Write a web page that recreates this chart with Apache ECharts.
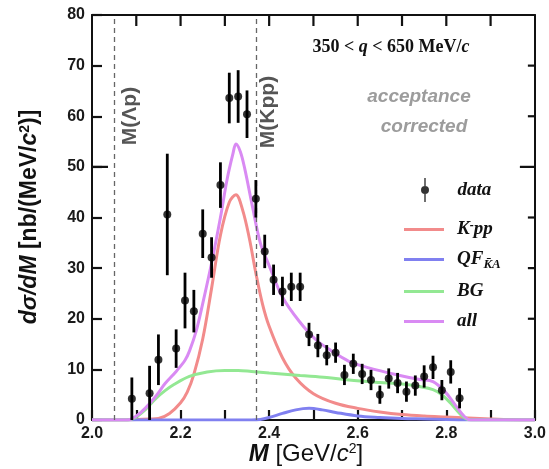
<!DOCTYPE html>
<html><head><meta charset="utf-8">
<script src="https://cdn.jsdelivr.net/npm/echarts@6/dist/echarts.min.js"></script>
<style>html,body{margin:0;padding:0;background:#fff}#c{width:549px;height:469px}</style>
</head><body><div id="c"></div>
<script>
// Invariant-mass spectrum, 350 < q < 650 MeV/c
const massBins = [2.09, 2.13, 2.15, 2.17, 2.19, 2.21, 2.23, 2.25, 2.27, 2.29,
  2.31, 2.33, 2.35, 2.37, 2.39, 2.41, 2.43, 2.45, 2.47, 2.49,
  2.51, 2.53, 2.55, 2.57, 2.59, 2.61, 2.63, 2.65, 2.67, 2.69,
  2.71, 2.73, 2.75, 2.77, 2.79, 2.81, 2.83];
const crossSection = [4.2, 5.3, 11.9, 40.6, 14.1, 23.6, 21.5, 36.8, 32.1, 46.4,
  63.6, 63.9, 60.4, 43.7, 33.3, 27.7, 25.4, 26.3, 26.3, 16.9,
  14.7, 12.8, 13.3, 8.9, 11.1, 9.1, 7.9, 5.0, 8.2, 7.3,
  5.6, 6.8, 8.6, 10.4, 5.9, 9.5, 4.3];
const crossSectionErr = [4.2, 5.4, 5.0, 12.0, 3.8, 5.5, 4.2, 4.8, 4.0, 4.5,
  5.0, 5.2, 4.7, 3.7, 3.3, 3.0, 2.9, 2.8, 2.8, 2.3,
  2.3, 2.0, 2.0, 2.0, 2.0, 2.0, 2.0, 1.8, 2.0, 2.0,
  2.0, 2.0, 2.2, 2.3, 2.0, 2.3, 2.0];

// fit components
const kppMass = [2.00, 2.05, 2.10, 2.13, 2.15, 2.175, 2.20, 2.215, 2.23, 2.25, 2.27, 2.29, 2.31, 2.325,
  2.34, 2.355, 2.37, 2.385, 2.40, 2.43, 2.46, 2.50, 2.55, 2.60, 2.65, 2.70, 2.75, 2.80, 2.85, 2.90, 2.95, 3.00];
const kppVal = [0, 0, 0.1, 0.2, 0.3, 1.3, 3.4, 5.5, 9.0, 16.0, 26.0, 36.5, 43.0, 44.5,
  41.5, 36.0, 29.0, 22.9, 18.5, 12.3, 8.3, 5.2, 3.3, 2.3, 1.6, 1.1, 0.8, 0.6, 0.4, 0.2, 0.05, 0];

const qfMass = [2.00, 2.36, 2.38, 2.40, 2.43, 2.46, 2.49, 2.52, 2.55, 2.60, 2.65, 2.70, 2.75, 2.80, 2.85, 3.00];
const qfVal = [0, 0, 0.1, 0.5, 1.3, 2.0, 2.3, 2.0, 1.5, 0.8, 0.5, 0.3, 0.2, 0.1, 0, 0];

const bgMass = [2.00, 2.08, 2.10, 2.12, 2.145, 2.165, 2.185, 2.22, 2.26, 2.30, 2.33, 2.36, 2.40, 2.47,
  2.53, 2.58, 2.65, 2.70, 2.74, 2.77, 2.79, 2.81, 2.83, 2.845, 2.86, 3.00];
const bgVal = [0, 0, 0.6, 2.0, 4.3, 5.8, 7.0, 8.6, 9.5, 9.8, 9.8, 9.6, 9.3, 8.8,
  8.4, 7.9, 7.4, 7.1, 6.6, 6.0, 5.0, 3.3, 1.3, 0.2, 0, 0];

const allMass = [2.00, 2.08, 2.10, 2.12, 2.145, 2.165, 2.19, 2.21, 2.22, 2.235, 2.25, 2.27, 2.29, 2.305,
  2.318, 2.325, 2.335, 2.345, 2.362, 2.38, 2.40, 2.43, 2.467, 2.505, 2.54, 2.58, 2.625, 2.69,
  2.74, 2.77, 2.797, 2.82, 2.842, 2.855, 3.00];
const allVal = [0, 0, 0.8, 2.3, 4.8, 7.2, 9.6, 11.8, 13.6, 17.5, 23.0, 31.0, 40.0, 47.5,
  52.5, 54.5, 53.0, 49.6, 42.3, 35.0, 30.5, 24.3, 19.6, 15.9, 13.7, 11.6, 10.3, 8.9,
  8.0, 7.6, 5.6, 3.0, 0.6, 0, 0];

// kinematic thresholds M(Λp), M(K⁻pp)
const thresholds = [2.054, 2.370];
const thresholdLabels = ['M(Λp)', 'M(Kpp)'];

const xTicks = [2.0, 2.2, 2.4, 2.6, 2.8, 3.0];
// tick marks repeated on the top and right edges of the frame
const topTickVals = [2.1, 2.2, 2.3, 2.4, 2.5, 2.6, 2.7, 2.8, 2.9];
const rightTickVals = [10, 20, 30, 40, 50, 60, 70];
const longTickVal = 50;

const zip = (a, b) => a.map((v, i) => [v, b[i]]);

const chart = echarts.init(document.getElementById('c'), null, {renderer: 'canvas'});

const tickFont = () => ({fontFamily: 'Liberation Sans', fontWeight: 'bold', fontSize: 16, color: '#1a1a1a'});
const frame = () => ({show: true, onZero: false, lineStyle: {color: '#111', width: 2}});
const ticksIn = () => ({show: true, inside: true, length: 10, lineStyle: {color: '#111', width: 2.2}});

const COL = {kpp: '#f28b8b', qf: '#8080f0', bg: '#93e893', all: '#d98af3'};

const curve = (name, xs, ys, color, z) => ({
  name, type: 'line', data: zip(xs, ys), smooth: 0.35, symbol: 'none', z,
  lineStyle: {color, width: 3}, itemStyle: {color}
});

// short inward tick drawn from an axis value; dx/dy give its direction and length
const tickSeries = (name, points, dirFn) => ({
  name, type: 'custom', z: 8, silent: true, clip: false,
  data: points, encode: {x: 0, y: 1},
  renderItem: (params, api) => {
    const p = api.coord([api.value(0), api.value(1)]);
    const d = dirFn(api.value(0), api.value(1));
    return {type: 'line', shape: {x1: p[0], y1: p[1], x2: p[0] + d[0], y2: p[1] + d[1]},
      style: {stroke: '#111', lineWidth: 2.2}};
  }
});

const legendRich = {
  i: {fontFamily: 'Liberation Serif', fontStyle: 'italic', fontWeight: 'bold', fontSize: 19, color: '#111'},
  sup: {fontFamily: 'Liberation Serif', fontStyle: 'italic', fontWeight: 'bold', fontSize: 12, color: '#111', verticalAlign: 'top', padding: [0, 0, 6, 0]},
  sub: {fontFamily: 'Liberation Serif', fontStyle: 'italic', fontWeight: 'bold', fontSize: 13, color: '#111', verticalAlign: 'bottom', padding: [10, 0, 0, 0]}
};
const legendText = {
  'data': '{i|data}',
  'K-pp': '{i|K}{sup|-}{i|pp}',
  'QF': '{i|QF}{sub|K\u0304A}',
  'BG': '{i|BG}',
  'all': '{i|all}'
};

chart.setOption({
  animation: false,
  backgroundColor: '#fff',
  grid: {left: 92, top: 15, right: 12, bottom: 49},
  xAxis: [{
    type: 'value', min: 2.0, max: 3.0, interval: 0.1,
    axisLine: frame(), axisTick: ticksIn(), splitLine: {show: false},
    axisLabel: Object.assign({margin: 6, formatter: v => {
      const t = xTicks.find(x => Math.abs(x - v) < 1e-6);
      return t === undefined ? '' : t.toFixed(1);
    }}, tickFont())
  }, {
    type: 'value', min: 2.0, max: 3.0, interval: 0.1, position: 'top',
    axisLine: frame(), axisTick: {show: false}, axisLabel: {show: false}, splitLine: {show: false}
  }],
  yAxis: [{
    type: 'value', min: 0, max: 80, interval: 10,
    axisLine: frame(), axisTick: ticksIn(), splitLine: {show: false},
    axisLabel: Object.assign({margin: 7}, tickFont())
  }, {
    type: 'value', min: 0, max: 80, interval: 10, position: 'right',
    axisLine: frame(), axisTick: {show: false}, axisLabel: {show: false}, splitLine: {show: false}
  }],
  legend: [{
    orient: 'vertical', left: 416, top: 173, itemWidth: 9, itemHeight: 24,
    data: [{name: 'data', icon: 'path://M3.3,0h1.4v24h-1.4z M4,8a4,4 0 1,1 0,8a4,4 0 1,1 0,-8z', itemStyle: {color: '#000'}}],
    formatter: n => legendText[n],
    textStyle: {rich: legendRich, padding: [0, 0, 0, 23]},
    selectedMode: false
  }, {
    orient: 'vertical', left: 399, top: 215, itemWidth: 40, itemHeight: 3, itemGap: 11,
    icon: 'rect',
    data: ['K-pp', 'QF', 'BG', 'all'],
    formatter: n => legendText[n],
    textStyle: {rich: legendRich, padding: [0, 0, 0, 8]},
    selectedMode: false
  }],
  graphic: [
    {type: 'text', x: 391, y: 47, style: {
      text: '{b|350 < }{bi|q}{b| < 650 MeV/}{bi|c}', textAlign: 'center', textVerticalAlign: 'middle',
      rich: {
        b: {fontFamily: 'Liberation Serif', fontWeight: 'bold', fontSize: 18, fill: '#111'},
        bi: {fontFamily: 'Liberation Serif', fontWeight: 'bold', fontStyle: 'italic', fontSize: 18, fill: '#111'}
      }
    }},
    {type: 'text', x: 419, y: 97, style: {
      text: 'acceptance', textAlign: 'center', textVerticalAlign: 'middle',
      font: 'italic bold 19px "Liberation Sans"', fill: '#9c9c9c'
    }},
    {type: 'text', x: 424, y: 127, style: {
      text: 'corrected', textAlign: 'center', textVerticalAlign: 'middle',
      font: 'italic bold 19px "Liberation Sans"', fill: '#9c9c9c'
    }},
    {type: 'text', x: 130, y: 116, rotation: Math.PI / 2, style: {
      text: thresholdLabels[0], textAlign: 'center', textVerticalAlign: 'middle',
      font: 'bold 21px "Liberation Sans"', fill: '#555'
    }},
    {type: 'text', x: 268, y: 112, rotation: Math.PI / 2, style: {
      text: thresholdLabels[1], textAlign: 'center', textVerticalAlign: 'middle',
      font: 'bold 21px "Liberation Sans"', fill: '#555'
    }},
    {type: 'text', x: 30, y: 217, rotation: Math.PI / 2, style: {
      text: '{i|dσ/dM }{n|[nb/(MeV/}{i|c}{s|2}{n|)]}', textAlign: 'center', textVerticalAlign: 'middle',
      rich: {
        i: {fontFamily: 'Liberation Sans', fontWeight: 'bold', fontStyle: 'italic', fontSize: 23, fill: '#111'},
        n: {fontFamily: 'Liberation Sans', fontWeight: 'bold', fontSize: 23, fill: '#111'},
        s: {fontFamily: 'Liberation Sans', fontWeight: 'bold', fontSize: 14, fill: '#111', verticalAlign: 'top', padding: [0, 0, 9, 0]}
      }
    }},
    {type: 'text', x: 306, y: 454, style: {
      text: '{i|M }{n|[GeV/}{ci|c}{s|2}{n|]}', textAlign: 'center', textVerticalAlign: 'middle',
      rich: {
        i: {fontFamily: 'Liberation Sans', fontWeight: 'bold', fontStyle: 'italic', fontSize: 24, fill: '#111'},
        ci: {fontFamily: 'Liberation Sans', fontStyle: 'italic', fontSize: 24, fill: '#111'},
        n: {fontFamily: 'Liberation Sans', fontSize: 24, fill: '#111'},
        s: {fontFamily: 'Liberation Sans', fontSize: 14, fill: '#111', verticalAlign: 'top', padding: [0, 0, 9, 0]}
      }
    }}
  ],
  series: [
    curve('K-pp', kppMass, kppVal, COL.kpp, 2),
    curve('QF', qfMass, qfVal, COL.qf, 2),
    curve('BG', bgMass, bgVal, COL.bg, 2),
    curve('all', allMass, allVal, COL.all, 3),
    {
      name: 'errors', type: 'custom', z: 5,
      data: massBins.map((m, i) => [m, crossSection[i] - crossSectionErr[i], crossSection[i] + crossSectionErr[i]]),
      encode: {x: 0, y: [1, 2]},
      renderItem: (params, api) => {
        const lo = api.coord([api.value(0), Math.max(0, api.value(1))]);
        const hi = api.coord([api.value(0), api.value(2)]);
        return {type: 'line', shape: {x1: lo[0], y1: lo[1], x2: hi[0], y2: hi[1]},
          style: {stroke: '#000', lineWidth: 2.8}};
      }
    },
    tickSeries('topTicks', topTickVals.map(v => [v, 80]), () => [0, 11]),
    tickSeries('rightTicks', rightTickVals.map(v => [3.0, v]), (x, y) => [y === longTickVal ? -15 : -7, 0]),
    tickSeries('leftLongTick', [[2.0, longTickVal]], () => [16, 0]),
    {
      name: 'data', type: 'scatter', z: 6, symbol: 'circle', symbolSize: 8,
      data: zip(massBins, crossSection),
      itemStyle: {color: '#000'},
      markLine: {
        silent: true, symbol: 'none', label: {show: false},
        lineStyle: {type: [5, 4], color: '#666', width: 1.3},
        data: thresholds.map(x => ({xAxis: x}))
      }
    }
  ]
});
</script></body></html>
